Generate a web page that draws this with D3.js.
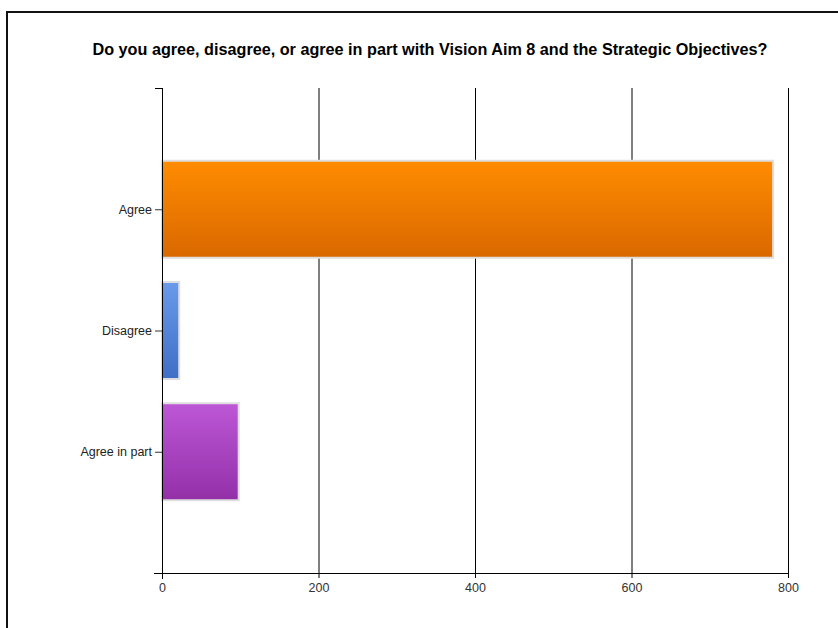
<!DOCTYPE html>
<html><head><meta charset="utf-8">
<script src="https://cdn.jsdelivr.net/npm/d3@7"></script>
<style>body{margin:0;background:#fff}svg{display:block}</style>
</head><body>
<script>
const title = "Do you agree, disagree, or agree in part with Vision Aim 8 and the Strategic Objectives?";
const categories = ["Agree", "Disagree", "Agree in part"];
const values = [781, 22, 98];
const xTicks = [0, 200, 400, 600, 800];
const colorsTop = ["#ff8c00", "#6a9ae9", "#bd57d6"];
const colorsBottom = ["#d96800", "#3f6fc6", "#9330a8"];

(function () {
const W = 838, H = 628;
const svg = d3.select("body").append("svg").attr("width", W).attr("height", H);
const defs = svg.append("defs");
categories.forEach((c, i) => {
  const g = defs.append("linearGradient").attr("id", "g" + i).attr("x1", 0).attr("y1", 0).attr("x2", 0).attr("y2", 1);
  g.append("stop").attr("offset", "0%").attr("stop-color", colorsTop[i]);
  g.append("stop").attr("offset", "100%").attr("stop-color", colorsBottom[i]);
});

// outer frame
svg.append("rect").attr("x", 7).attr("y", 12).attr("width", W).attr("height", H).attr("fill", "none").attr("stroke", "#111").attr("stroke-width", 2);

svg.append("text").attr("x", 430).attr("y", 55).attr("text-anchor", "middle")
  .attr("font-family", "Liberation Sans, Arial, sans-serif").attr("font-weight", "bold").attr("font-size", 16)
  .attr("textLength", 675).attr("lengthAdjust", "spacingAndGlyphs")
  .attr("fill", "#000").text(title);

const pl = 162, pr = 788, pt = 88, pb = 573;
const x = d3.scaleLinear().domain([0, 800]).range([pl, pr]);
const y = d3.scalePoint().domain(categories).range([pt, pb]).padding(1);
const bh = y.step() * 0.8;

// gridlines
svg.append("g").selectAll("line").data(xTicks.slice(1)).join("line")
  .attr("x1", d => x(d) + 0.5).attr("x2", d => x(d) + 0.5).attr("y1", pt).attr("y2", pb)
  .attr("stroke", "#000").attr("stroke-width", 1);

// bars
svg.append("g").selectAll("rect").data(categories).join("rect")
  .attr("x", x(0)).attr("y", d => y(d) - bh / 2)
  .attr("width", (d, i) => x(values[i]) - x(0)).attr("height", bh)
  .attr("fill", (d, i) => `url(#g${i})`)
  .attr("stroke", "#dedede").attr("stroke-width", 2);

// x axis
const xa = svg.append("g").attr("transform", `translate(0,${pb})`)
  .call(d3.axisBottom(x).tickValues(xTicks).tickSize(6).tickPadding(4));
xa.select(".domain").remove();
xa.append("line").attr("x1", pl - 8).attr("x2", pr).attr("y1", 0.5).attr("y2", 0.5).attr("stroke", "#000");
xa.selectAll(".tick line").attr("stroke", "#000").attr("y1", 0).attr("y2", 5);
xa.selectAll("text").attr("font-family", "Liberation Sans, Arial, sans-serif").attr("font-size", 12.5).attr("fill", "#333");

// y axis
const ya = svg.append("g").attr("transform", `translate(${pl},0)`)
  .call(d3.axisLeft(y).tickSize(7).tickPadding(3));
ya.select(".domain").remove();
ya.append("line").attr("x1", 0.5).attr("x2", 0.5).attr("y1", pt).attr("y2", pb + 6).attr("stroke", "#000");
ya.append("line").attr("x1", -7).attr("x2", 0.5).attr("y1", pt + 0.5).attr("y2", pt + 0.5).attr("stroke", "#000");
ya.selectAll(".tick line").attr("stroke", "#333");
ya.selectAll("text").attr("font-family", "Liberation Sans, Arial, sans-serif").attr("font-size", 12.5).attr("fill", "#222");
})();
</script>
</body></html>
